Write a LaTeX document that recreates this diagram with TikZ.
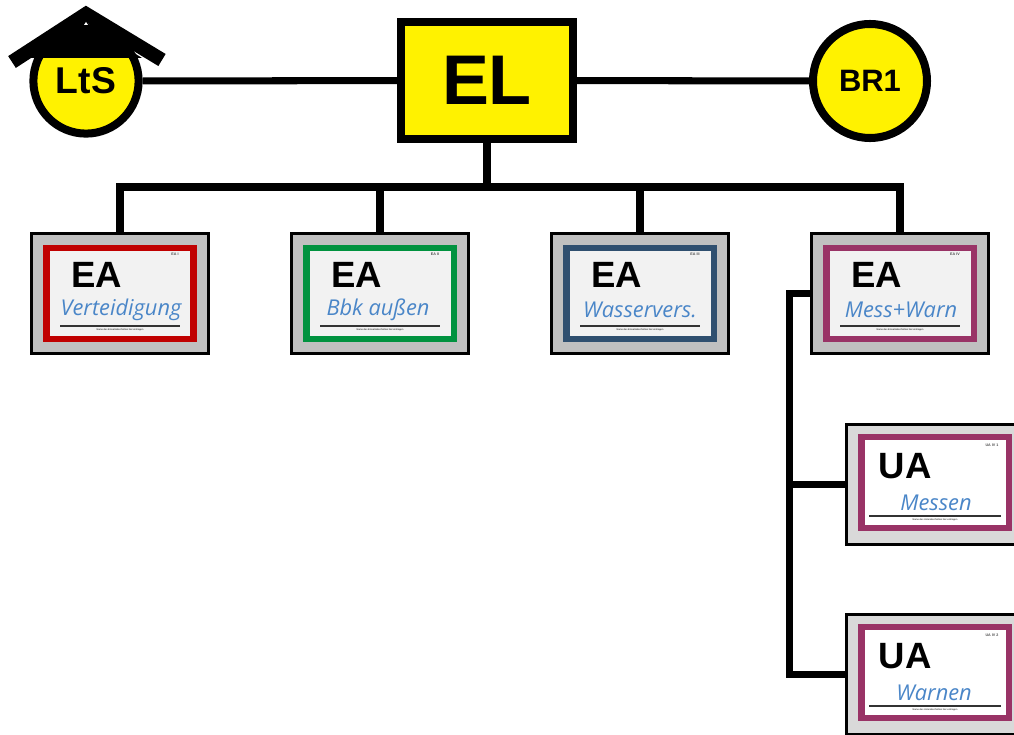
\documentclass[tikz,border=0pt]{standalone}
\usepackage{fontspec}
\setmainfont{Liberation Sans}
\newfontfamily\handfont{Open Sans}
\usetikzlibrary{calc,positioning}
\definecolor{eaRed}{HTML}{C00000}
\definecolor{eaGreen}{HTML}{00923F}
\definecolor{eaBlue}{HTML}{2F4F6F}
\definecolor{eaPurple}{HTML}{993366}
\definecolor{handBlue}{HTML}{4A86C8}
\definecolor{frameGray}{HTML}{C0C0C0}
\definecolor{frameLight}{HTML}{D9D9D9}
\definecolor{cardWhite}{HTML}{F2F2F2}
\tikzset{
myCircle/.style={
	circle, draw=black, fill=yellow, line width=5.7pt,
	inner sep=0pt, text=black
}
, myLeader/.style={
	rectangle, draw=black, fill=yellow, line width=5.7pt,
	minimum width=4.3cm, minimum height=2.925cm,
	inner sep=0pt, font=\bfseries\fontsize{50}{50}\selectfont
}
, myFrame/.style={
	rectangle, draw=black, fill=#1, line width=2.2pt,
	minimum width=4.425cm, minimum height=3cm, inner sep=0pt
}
, myCard/.style={
	rectangle, draw=#1, fill=cardWhite, line width=4.3pt,
	minimum width=3.675cm, minimum height=2.275cm, inner sep=0pt
}
, myTitle/.style={font=\bfseries\fontsize{26}{26}\selectfont, inner sep=0pt}
, myName/.style={text=handBlue, font=\handfont\itshape\fontsize{15.5}{15.5}\selectfont, inner sep=0pt}
, myTag/.style={font=\bfseries\fontsize{2.6}{3}\selectfont, text=black!70, inner sep=0pt}
, myHint/.style={font=\fontsize{1.7}{2}\selectfont, inner sep=0pt}
, myRule/.style={line width=1.4pt, color=black!80}
% link
, myLink/.style={line width=5pt, line join=miter}
}

\begin{document}
\begin{tikzpicture}[x=0.025cm, y=-0.025cm]
	\useasboundingbox (0,0) rectangle (1014,735);
	% leader
	\node[myLeader] (EL) at (487,80.5) {EL};
	\node[myCircle, minimum size=2.63cm, font=\bfseries\fontsize{26.5}{26.5}\selectfont] (LtS) at (86,81) {LtS};
	\node[myCircle, minimum size=2.85cm, font=\bfseries\fontsize{22}{22}\selectfont] (BR1) at (870,81) {BR1};
	% roof
	\fill[black] (30,58) -- (86,22) -- (142,58) -- cycle;
	\draw[line width=10pt, line join=miter] (12,62) -- (86,14) -- (162,60);
	\fill[white] (84,25) -- (86,22) -- (88,25) -- cycle;

	% sections
	\node[myFrame=frameGray] (EA1) at (120,293.5) {};
	\node[myCard=eaRed] (EA1card) at (EA1) {};
	\node[myTitle] (EA1title) at ($(EA1)+(-23,-18.5)$) {EA};
	\node[myName] (EA1name) at ($(EA1)+(1,16.5)$) {Verteidigung};
	\draw[myRule] ($(EA1)+(-60,32.5)$) -- ($(EA1)+(60,32.5)$);
	\node[myHint] (EA1hint) at ($(EA1)+(0,36)$) {Name des Einsatzabschnittes hier eintragen};
	\node[myTag] (EA1tag) at ($(EA1)+(55,-39.5)$) {EA I};

	\node[myFrame=frameGray] (EA2) at (380,293.5) {};
	\node[myCard=eaGreen] (EA2card) at (EA2) {};
	\node[myTitle] (EA2title) at ($(EA2)+(-23,-18.5)$) {EA};
	\node[myName] (EA2name) at ($(EA2)+(-2,16.5)$) {Bbk außen};
	\draw[myRule] ($(EA2)+(-60,32.5)$) -- ($(EA2)+(60,32.5)$);
	\node[myHint] (EA2hint) at ($(EA2)+(0,36)$) {Name des Einsatzabschnittes hier eintragen};
	\node[myTag] (EA2tag) at ($(EA2)+(55,-39.5)$) {EA II};

	\node[myFrame=frameGray] (EA3) at (640,293.5) {};
	\node[myCard=eaBlue] (EA3card) at (EA3) {};
	\node[myTitle] (EA3title) at ($(EA3)+(-23,-18.5)$) {EA};
	\node[myName] (EA3name) at ($(EA3)+(0,16.5)$) {Wasservers.};
	\draw[myRule] ($(EA3)+(-60,32.5)$) -- ($(EA3)+(60,32.5)$);
	\node[myHint] (EA3hint) at ($(EA3)+(0,36)$) {Name des Einsatzabschnittes hier eintragen};
	\node[myTag] (EA3tag) at ($(EA3)+(55,-39.5)$) {EA III};

	\node[myFrame=frameGray] (EA4) at (900,293.5) {};
	\node[myCard=eaPurple] (EA4card) at (EA4) {};
	\node[myTitle] (EA4title) at ($(EA4)+(-23,-18.5)$) {EA};
	\node[myName] (EA4name) at ($(EA4)+(1,16.5)$) {Mess+Warn};
	\draw[myRule] ($(EA4)+(-60,32.5)$) -- ($(EA4)+(60,32.5)$);
	\node[myHint] (EA4hint) at ($(EA4)+(0,36)$) {Name des Einsatzabschnittes hier eintragen};
	\node[myTag] (EA4tag) at ($(EA4)+(55,-39.5)$) {EA IV};

	% sub sections
	\node[myFrame=frameLight] (UA1) at (935,484.5) {};
	\node[myCard=eaPurple, fill=white] (UA1card) at ($(UA1)+(0,-2)$) {};
	\node[myTitle] (UA1title) at ($(UA1)+(-30,-18.5)$) {UA};
	\node[myName] (UA1name) at ($(UA1)+(1,18.5)$) {Messen};
	\draw[myRule] ($(UA1)+(-66,31.5)$) -- ($(UA1)+(66,31.5)$);
	\node[myHint] (UA1hint) at ($(UA1)+(0,35)$) {Name des Unterabschnittes hier eintragen};
	\node[myTag] (UA1tag) at ($(UA1)+(57,-39.5)$) {UA IV 1};

	\node[myFrame=frameLight] (UA2) at (935,674.5) {};
	\node[myCard=eaPurple, fill=white] (UA2card) at ($(UA2)+(0,-2)$) {};
	\node[myTitle] (UA2title) at ($(UA2)+(-30,-18.5)$) {UA};
	\node[myName] (UA2name) at ($(UA2)+(-1,18.5)$) {Warnen};
	\draw[myRule] ($(UA2)+(-66,31.5)$) -- ($(UA2)+(66,31.5)$);
	\node[myHint] (UA2hint) at ($(UA2)+(0,35)$) {Name des Unterabschnittes hier eintragen};
	\node[myTag] (UA2tag) at ($(UA2)+(57,-39.5)$) {UA IV 2};

	% links
	\draw[myLink] (LtS) -- (EL);
	\draw[myLink] (EL) -- (BR1);
	\coordinate (Bus) at (487,187);
	\draw[myLink] (EL.south) -- (Bus);
	\draw[myLink] (EA1.north) -- (EA1.north |- Bus) -- (EA4.north |- Bus) -- (EA4.north);
	\draw[myLink] (EA2.north |- Bus) -- (EA2.north);
	\draw[myLink] (EA3.north |- Bus) -- (EA3.north);
	\draw[myLink] (EA4.west) -- ++(-20,0) coordinate (SubTop) |- (UA2.west);
	\draw[myLink] (SubTop |- UA1.west) -- (UA1.west);
\end{tikzpicture}
\end{document}
